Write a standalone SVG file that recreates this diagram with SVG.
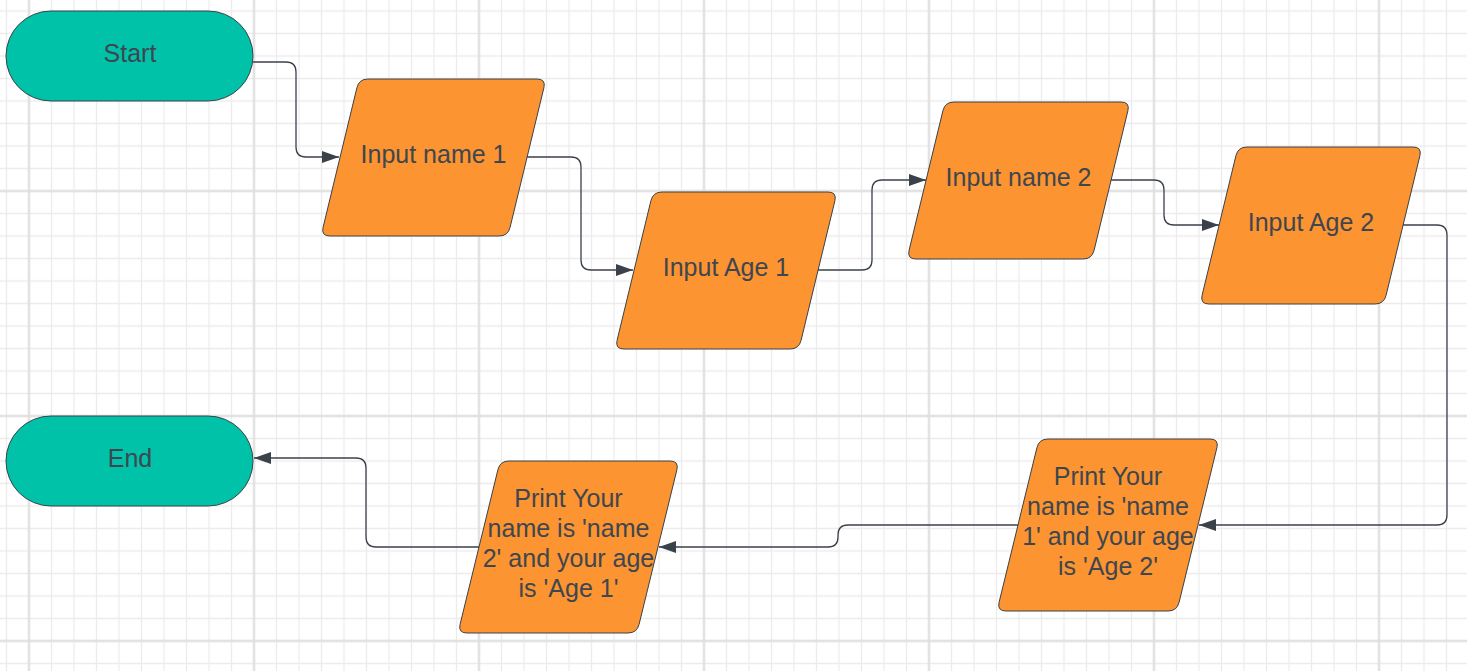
<svg xmlns="http://www.w3.org/2000/svg" width="1467" height="671" viewBox="0 0 1467 671">
<style>
.term{fill:#00c2a8;stroke:#3a414a;stroke-width:1}
.io{fill:#fb9431;stroke:#3a414a;stroke-width:1}
.lbl{font-family:"Liberation Sans",Arial,sans-serif;font-size:25px;fill:#3f464f;text-anchor:middle}
.conn{fill:none;stroke:#3a414a;stroke-width:1.3;marker-end:url(#arr)}
</style>
<defs>
<pattern id="minor" width="22.5" height="22.5" patternUnits="userSpaceOnUse" x="17.75" y="179.75">
<path d="M11.25 0V22.5M0 11.25H22.5" stroke="#ececec" stroke-width="1.3" fill="none"/>
</pattern>
<pattern id="major" width="225" height="225" patternUnits="userSpaceOnUse" x="-83.5" y="78.5">
<path d="M112.5 0V225M0 112.5H225" stroke="#dedede" stroke-width="2" fill="none"/>
</pattern>
<marker id="arr" markerUnits="userSpaceOnUse" markerWidth="17" markerHeight="12" refX="17" refY="6" orient="auto">
<path d="M0,0L17,6L0,12Z" fill="#3a414a"/>
</marker>
</defs>
<rect width="1467" height="671" fill="#ffffff"/>
<rect width="1467" height="671" fill="url(#minor)"/>
<rect width="1467" height="671" fill="url(#major)"/>

<g id="connectors">
<path class="conn" d="M253,62H286Q296,62 296,72V147Q296,157 306,157H339"/>
<path class="conn" d="M527,157H571Q581,157 581,167V260Q581,270 591,270H633"/>
<path class="conn" d="M818,270H862Q872,270 872,260V190Q872,180 882,180H926"/>
<path class="conn" d="M1111,180H1154Q1164,180 1164,190V215Q1164,225 1174,225H1219"/>
<path class="conn" d="M1403,225H1437Q1447,225 1447,235V515Q1447,525 1437,525H1199"/>
<path class="conn" d="M1018,525H848Q838,525 838,535V537Q838,547 828,547H659"/>
<path class="conn" d="M479,547H376Q366,547 366,537V468Q366,458 356,458H254"/>
</g>

<g id="start">
<rect class="term" x="6" y="11" width="247" height="90" rx="45" ry="45"/>
<text class="lbl" x="130" y="62">Start</text>
</g>

<g id="input-name-1">
<path class="io" d="M368,79L537,79Q546,79 543.9,87.75L510.1,227.25Q508,236 499,236L330,236Q321,236 323.1,227.25L356.9,87.75Q359,79 368,79Z"/>
<text class="lbl" x="433.5" y="163">Input name 1</text>
</g>

<g id="input-age-1">
<path class="io" d="M662,192L828,192Q837,192 834.9,200.75L801.1,340.25Q799,349 790,349L624,349Q615,349 617.1,340.25L650.9,200.75Q653,192 662,192Z"/>
<text class="lbl" x="726" y="276">Input Age 1</text>
</g>

<g id="input-name-2">
<path class="io" d="M954,102L1121,102Q1130,102 1127.9,110.75L1094.1,250.25Q1092,259 1083,259L916,259Q907,259 909.1,250.25L942.9,110.75Q945,102 954,102Z"/>
<text class="lbl" x="1018.5" y="186">Input name 2</text>
</g>

<g id="input-age-2">
<path class="io" d="M1247,147L1413,147Q1422,147 1419.9,155.75L1386.1,295.25Q1384,304 1375,304L1209,304Q1200,304 1202.1,295.25L1235.9,155.75Q1238,147 1247,147Z"/>
<text class="lbl" x="1311" y="231">Input Age 2</text>
</g>

<g id="print-1">
<path class="io" d="M1048,439L1210,439Q1219,439 1216.9,447.75L1179.1,602.25Q1177,611 1168,611L1006,611Q997,611 999.1,602.25L1036.9,447.75Q1039,439 1048,439Z"/>
<text class="lbl" x="1108" y="485">Print Your</text>
<text class="lbl" x="1108" y="515">name is 'name</text>
<text class="lbl" x="1108" y="545">1' and your age</text>
<text class="lbl" x="1108" y="575">is 'Age 2'</text>
</g>

<g id="print-2">
<path class="io" d="M509,461L670,461Q679,461 676.9,469.75L639.1,624.25Q637,633 628,633L467,633Q458,633 460.1,624.25L497.9,469.75Q500,461 509,461Z"/>
<text class="lbl" x="568.5" y="507">Print Your</text>
<text class="lbl" x="568.5" y="537">name is 'name</text>
<text class="lbl" x="568.5" y="567">2' and your age</text>
<text class="lbl" x="568.5" y="597">is 'Age 1'</text>
</g>

<g id="end">
<rect class="term" x="6" y="416" width="247" height="90" rx="45" ry="45"/>
<text class="lbl" x="130" y="467">End</text>
</g>
</svg>
